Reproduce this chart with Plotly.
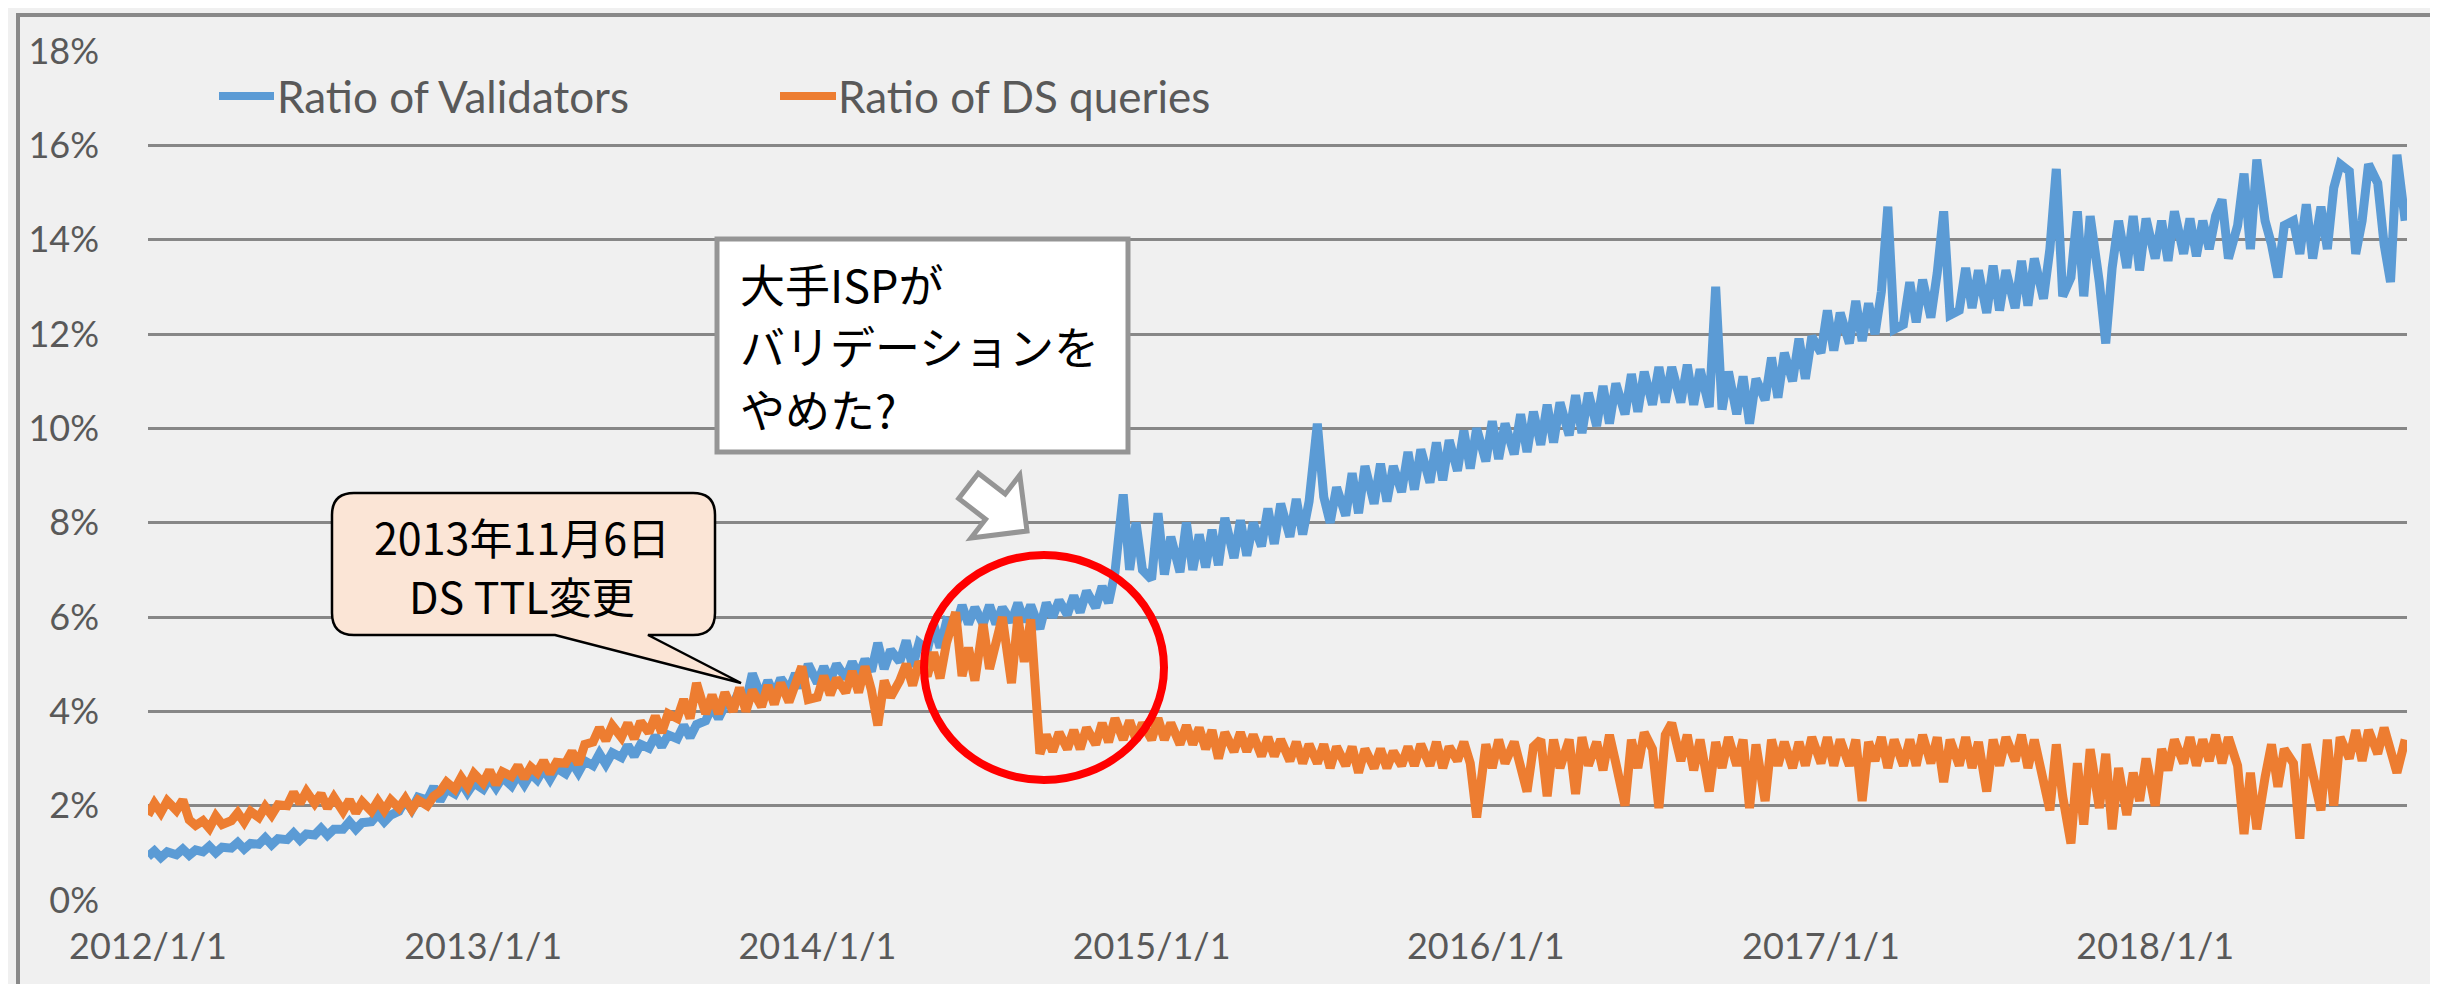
import plotly.graph_objects as go

# ---------------- data (percent) ----------------
tick_dates = ["2012-01-01", "2013-01-01", "2014-01-01", "2015-01-01",
              "2016-01-01", "2017-01-01", "2018-01-01"]
tick_labels = ["2012/1/1", "2013/1/1", "2014/1/1", "2015/1/1",
               "2016/1/1", "2017/1/1", "2018/1/1"]
y_ticks = [0, 2, 4, 6, 8, 10, 12, 14, 16, 18]
y_tick_labels = ["0%", "2%", "4%", "6%", "8%", "10%", "12%", "14%", "16%", "18%"]

series_names = ["Ratio of Validators", "Ratio of DS queries"]

# 4 samples per month (days 1, 8, 15, 22)
blue_2012 = [0.92, 1.04, 0.90, 1.02, 0.96, 1.08, 0.95, 1.06, 1.02, 1.14, 1.00, 1.12,
             1.10, 1.22, 1.08, 1.20, 1.18, 1.32, 1.17, 1.30, 1.28, 1.42, 1.27, 1.40,
             1.38, 1.52, 1.37, 1.50, 1.50, 1.66, 1.50, 1.64, 1.66, 1.82, 1.66, 1.80,
             1.88, 2.12, 1.92, 2.18, 2.12, 2.40, 2.10, 2.35, 2.25, 2.50, 2.28, 2.48]
blue_2013 = [2.35, 2.58, 2.38, 2.60, 2.42, 2.66, 2.45, 2.68, 2.55, 2.78, 2.56, 2.80,
             2.68, 2.92, 2.70, 2.95, 2.85, 3.10, 2.88, 3.12, 3.02, 3.28, 3.05, 3.30,
             3.22, 3.48, 3.25, 3.50, 3.42, 3.70, 3.45, 3.72, 3.80, 4.10, 3.85, 4.12,
             4.15, 4.45, 4.20, 4.80, 4.30, 4.65, 4.35, 4.70, 4.45, 4.80, 4.50, 5.00]
blue_2014 = [4.60, 4.95, 4.65, 5.00, 4.70, 5.05, 4.75, 5.10, 4.85, 5.45, 4.90, 5.30,
             5.05, 5.50, 4.95, 5.45, 5.30, 5.85, 5.35, 5.90, 5.80, 6.25, 5.85, 6.20,
             5.85, 6.25, 5.85, 6.20, 5.90, 6.30, 5.90, 6.25, 5.75, 6.30, 6.00, 6.35,
             6.05, 6.45, 6.10, 6.55, 6.20, 6.65, 6.30, 6.95, 8.60, 7.00, 8.00, 7.00]
blue_2015 = [6.80, 8.20, 6.90, 7.70, 6.95, 8.00, 7.00, 7.75, 7.05, 7.85, 7.10, 8.10,
             7.25, 8.05, 7.30, 8.00, 7.50, 8.30, 7.55, 8.40, 7.70, 8.50, 7.75, 8.45,
             10.10, 8.55, 8.00, 8.75, 8.15, 9.05, 8.20, 9.20, 8.40, 9.25, 8.45, 9.20,
             8.65, 9.50, 8.70, 9.55, 8.85, 9.70, 8.90, 9.75, 9.10, 9.95, 9.15, 10.00]
blue_2016 = [9.30, 10.15, 9.35, 10.10, 9.45, 10.30, 9.50, 10.35, 9.65, 10.50, 9.70, 10.55,
             9.85, 10.70, 9.90, 10.75, 10.05, 10.90, 10.10, 10.95, 10.30, 11.15, 10.35, 11.20,
             10.50, 11.30, 10.55, 11.30, 10.55, 11.35, 10.50, 11.25, 10.45, 13.00, 10.40, 11.20,
             10.30, 11.10, 10.10, 11.05, 10.60, 11.50, 10.65, 11.60, 11.00, 11.90, 11.05, 11.95]
blue_2017 = [11.60, 12.50, 11.65, 12.45, 11.80, 12.70, 11.85, 12.65, 12.00, 12.90, 14.70, 12.10,
             12.20, 13.10, 12.25, 13.15, 12.35, 13.30, 14.60, 12.40, 12.50, 13.40, 12.55, 13.35,
             12.45, 13.45, 12.50, 13.35, 12.55, 13.55, 12.60, 13.60, 12.75, 13.80, 15.50, 12.80,
             13.20, 14.60, 12.80, 14.50, 13.10, 11.80, 13.40, 14.40, 13.40, 14.50, 13.35, 14.45]
blue_2018 = [13.60, 14.40, 13.55, 14.60, 13.70, 14.45, 13.65, 14.40, 13.80, 14.50, 14.85, 13.60,
             14.30, 15.40, 13.80, 15.70, 14.40, 13.90, 13.20, 14.30, 14.40, 13.70, 14.75, 13.60,
             14.70, 13.80, 15.10, 15.60, 15.45, 13.70, 14.40, 15.60, 15.20, 13.90, 13.10, 15.80,
             14.40]

orange_2012 = [1.80, 2.05, 1.85, 2.10, 1.90, 2.12, 1.70, 1.58, 1.68, 1.52, 1.78, 1.60,
               1.68, 1.85, 1.65, 1.88, 1.75, 1.98, 1.80, 2.02, 2.00, 2.28, 2.05, 2.30,
               2.05, 2.25, 1.95, 2.18, 1.88, 2.12, 1.85, 2.08, 1.88, 2.10, 1.90, 2.12,
               1.95, 2.15, 1.92, 2.12, 2.00, 2.20, 2.30, 2.50, 2.35, 2.60, 2.40, 2.68]
orange_2013 = [2.48, 2.75, 2.45, 2.72, 2.62, 2.85, 2.58, 2.82, 2.70, 2.95, 2.68, 2.92,
               2.90, 3.15, 2.88, 3.30, 3.35, 3.65, 3.38, 3.70, 3.45, 3.75, 3.42, 3.78,
               3.55, 3.90, 3.55, 3.95, 3.85, 4.25, 3.85, 4.60, 3.95, 4.35, 3.95, 4.40,
               4.00, 4.50, 4.00, 4.45, 4.10, 4.55, 4.15, 4.60, 4.20, 4.65, 4.95, 4.25]
orange_2014 = [4.30, 4.75, 4.35, 4.70, 4.40, 4.85, 4.40, 4.95, 4.45, 3.70, 4.65, 4.30,
               4.65, 5.00, 4.55, 5.05, 4.75, 5.25, 4.70, 5.45, 6.10, 4.75, 5.35, 4.65,
               5.85, 4.90, 5.45, 6.00, 4.60, 6.00, 5.05, 5.95, 3.10, 3.50, 3.15, 3.55,
               3.20, 3.60, 3.20, 3.65, 3.30, 3.75, 3.35, 3.85, 3.40, 3.80, 3.40, 3.75]
orange_2015 = [3.40, 3.85, 3.40, 3.75, 3.30, 3.70, 3.30, 3.65, 3.20, 3.60, 3.00, 3.55,
               3.15, 3.55, 3.15, 3.50, 3.05, 3.45, 3.05, 3.40, 2.95, 3.35, 2.90, 3.30,
               2.90, 3.30, 2.80, 3.25, 2.85, 3.25, 2.70, 3.20, 2.80, 3.20, 2.80, 3.15,
               2.85, 3.25, 2.85, 3.30, 2.85, 3.35, 2.80, 3.25, 2.95, 3.35, 2.90, 1.75]
orange_2016 = [3.30, 2.80, 3.40, 2.90, 3.35, 2.85, 2.30, 3.25, 3.40, 2.20, 3.40, 2.80,
               3.40, 2.25, 3.45, 2.85, 3.35, 2.75, 3.50, 2.90, 2.00, 3.40, 2.80, 3.55,
               3.20, 1.95, 3.50, 3.75, 2.95, 3.50, 2.75, 3.40, 2.30, 3.35, 2.80, 3.45,
               2.85, 3.40, 1.95, 3.30, 2.10, 3.40, 2.85, 3.35, 2.80, 3.35, 2.85, 3.45]
orange_2017 = [2.90, 3.45, 2.85, 3.40, 2.85, 3.40, 2.10, 3.35, 2.95, 3.45, 2.80, 3.40,
               2.85, 3.40, 2.85, 3.50, 2.90, 3.45, 2.50, 3.40, 2.85, 3.45, 2.80, 3.35,
               2.30, 3.40, 2.85, 3.45, 2.95, 3.50, 2.80, 3.40, 2.40, 1.90, 3.30, 2.20,
               1.20, 2.90, 1.60, 3.20, 1.95, 3.10, 1.50, 2.80, 1.80, 2.70, 2.10, 3.00]
orange_2018 = [2.00, 3.20, 2.75, 3.40, 2.90, 3.45, 2.85, 3.40, 2.95, 3.50, 2.90, 3.45,
               2.85, 1.40, 2.70, 1.50, 2.60, 3.30, 2.40, 3.20, 2.90, 1.30, 3.30, 2.75,
               1.90, 3.40, 2.00, 3.45, 3.00, 3.60, 2.95, 3.60, 3.10, 3.65, 3.10, 2.70,
               3.40]

blue_values = blue_2012 + blue_2013 + blue_2014 + blue_2015 + blue_2016 + blue_2017 + blue_2018
orange_values = (orange_2012 + orange_2013 + orange_2014 + orange_2015 +
                 orange_2016 + orange_2017 + orange_2018)

sample_dates = []
for year in range(2012, 2019):
    for month in range(1, 13):
        for day in (1, 8, 15, 22):
            sample_dates.append(f"{year}-{month:02d}-{day:02d}")

blue_dates = sample_dates[:len(blue_values)]
orange_dates = sample_dates[:len(orange_values)]

# ---------------- colours / styles ----------------
BLUE = "#5B9BD5"
ORANGE = "#ED7D31"
TEXT = "#595959"
GRID = "#878787"
BG = "#F0F0F0"
LW = 9

W, H = 2438, 984
L, R, T, B = 140, 39, 43, 92
PW, PH = W - L - R, H - T - B


def fx(px):
    return (px - L) / PW


def fy(py):
    return (H - B - py) / PH


fig = go.Figure()
fig.add_trace(go.Scatter(x=blue_dates, y=blue_values, mode="lines",
                         name=series_names[0],
                         line=dict(color=BLUE, width=LW)))
fig.add_trace(go.Scatter(x=orange_dates, y=orange_values, mode="lines",
                         name=series_names[1],
                         line=dict(color=ORANGE, width=LW)))

shapes = []
# chart border
shapes.append(dict(type="rect", xref="paper", yref="paper",
                   x0=fx(10), x1=fx(2427), y0=fy(978), y1=fy(7),
                   line=dict(color="#898989", width=4), fillcolor="rgba(0,0,0,0)",
                   layer="below"))
# legend samples
shapes.append(dict(type="line", xref="paper", yref="paper",
                   x0=fx(211), x1=fx(266), y0=fy(88), y1=fy(88),
                   line=dict(color=BLUE, width=8)))
shapes.append(dict(type="line", xref="paper", yref="paper",
                   x0=fx(772), x1=fx(828), y0=fy(88), y1=fy(88),
                   line=dict(color=ORANGE, width=8)))
# red circle
shapes.append(dict(type="circle", xref="paper", yref="paper",
                   x0=fx(916), x1=fx(1156), y0=fy(772), y1=fy(547),
                   line=dict(color="#FF0000", width=8)))


def P(x, y):
    return f"{fx(x):.5f},{fy(y):.5f}"


# speech bubble 1 (rounded rect + tail)
bub = ("M " + P(346, 485) + " L " + P(685, 485) + " Q " + P(707, 485) + " " + P(707, 507) +
       " L " + P(707, 605) + " Q " + P(707, 627) + " " + P(685, 627) +
       " L " + P(640, 627) + " L " + P(733, 675) + " L " + P(547, 627) +
       " L " + P(346, 627) + " Q " + P(324, 627) + " " + P(324, 605) +
       " L " + P(324, 507) + " Q " + P(324, 485) + " " + P(346, 485) + " Z")
shapes.append(dict(type="path", xref="paper", yref="paper", path=bub,
                   fillcolor="#FBE5D6", line=dict(color="#000000", width=2.5)))

# white text box 2
shapes.append(dict(type="rect", xref="paper", yref="paper",
                   x0=fx(709), x1=fx(1120), y0=fy(444), y1=fy(231),
                   fillcolor="#FFFFFF", line=dict(color="#959595", width=5)))

# block arrow
arrow_pts = [(970.3, 465.3), (997.2, 486.0), (1011.8, 467.0), (1019.0, 523.0),
             (963.0, 530.0), (977.6, 511.2), (950.7, 490.5)]
arr = "M " + " L ".join(P(x, y) for x, y in arrow_pts) + " Z"
shapes.append(dict(type="path", xref="paper", yref="paper", path=arr,
                   fillcolor="#FFFFFF", line=dict(color="#959595", width=5)))

annotations = []
# legend texts
annotations.append(dict(xref="paper", yref="paper", x=fx(267), y=fy(88),
                        xanchor="left", yanchor="middle", showarrow=False,
                        text=series_names[0],
                        font=dict(family="Lato", size=44, color=TEXT)))
annotations.append(dict(xref="paper", yref="paper", x=fx(828), y=fy(88),
                        xanchor="left", yanchor="middle", showarrow=False,
                        text=series_names[1],
                        font=dict(family="Lato", size=44, color=TEXT)))
# bubble 1 text
JP = "Noto Sans CJK JP"
annotations.append(dict(xref="paper", yref="paper", x=fx(514), y=fy(528),
                        xanchor="center", yanchor="middle", showarrow=False,
                        text="2013年11月6日",
                        font=dict(family=JP, size=43, color="#000000")))
annotations.append(dict(xref="paper", yref="paper", x=fx(514), y=fy(587),
                        xanchor="center", yanchor="middle", showarrow=False,
                        text="DS TTL変更",
                        font=dict(family=JP, size=43, color="#000000")))
# box 2 text
for txt, yy in [("大手ISPが", 275), ("バリデーションを", 337), ("やめた?", 400)]:
    annotations.append(dict(xref="paper", yref="paper", x=fx(730), y=fy(yy),
                            xanchor="left", yanchor="middle", showarrow=False,
                            text=txt,
                            font=dict(family=JP, size=45, color="#000000")))

fig.update_layout(
    width=W, height=H,
    margin=dict(l=L, r=R, t=T, b=B, pad=0),
    paper_bgcolor=BG, plot_bgcolor=BG,
    showlegend=False,
    shapes=shapes,
    annotations=annotations,
    xaxis=dict(type="date", range=["2012-01-01", "2018-10-03"],
               tickvals=tick_dates, ticktext=tick_labels,
               showgrid=False, zeroline=False, showline=False, ticks="",
               ticklabelstandoff=22,
               tickfont=dict(family="Lato", size=36, color=TEXT)),
    yaxis=dict(range=[0, 18], tickvals=y_ticks, ticktext=y_tick_labels,
               showgrid=True, gridcolor=GRID, gridwidth=2.5,
               zeroline=False, showline=False, ticks="",
               ticklabelstandoff=48,
               tickfont=dict(family="Lato", size=36, color=TEXT)),
)

fig.write_html("out.html")
